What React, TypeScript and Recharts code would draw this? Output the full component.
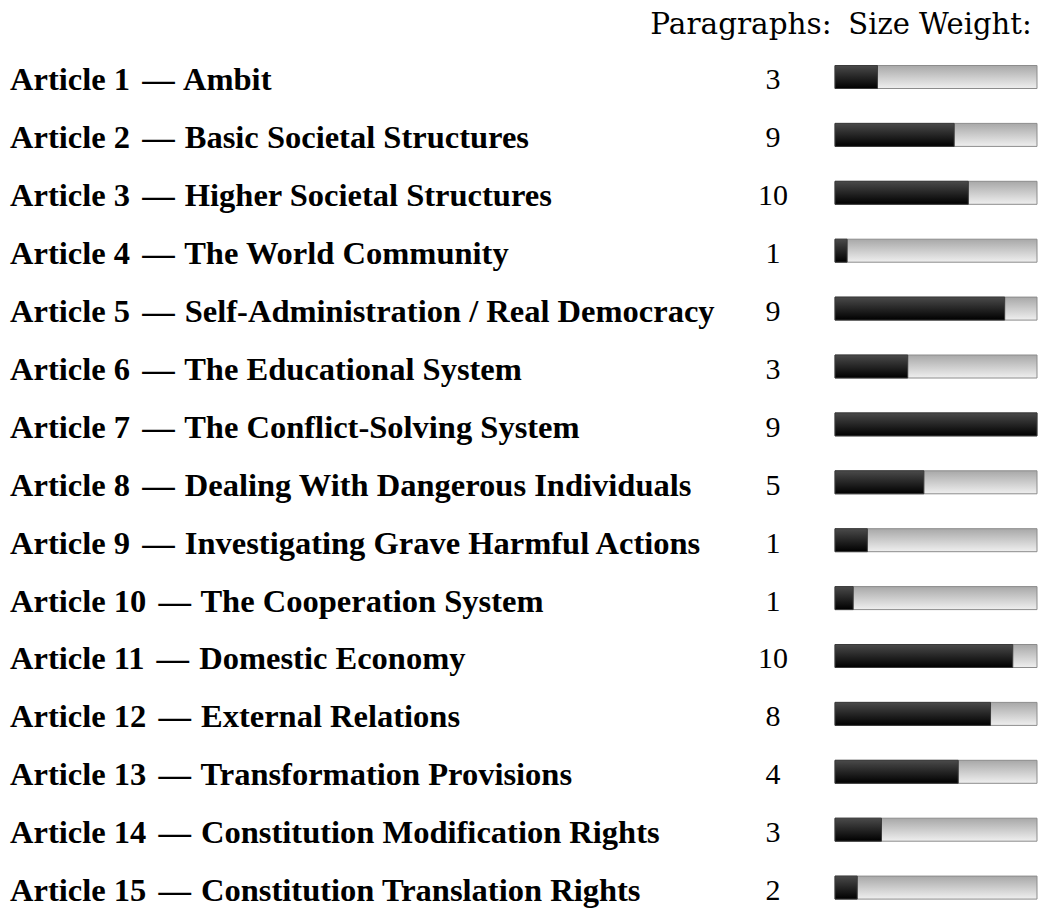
import React from 'react';
import { BarChart, Bar, XAxis, YAxis } from 'recharts';

const labels = [
  'Article 1 — Ambit',
  'Article 2 — Basic Societal Structures',
  'Article 3 — Higher Societal Structures',
  'Article 4 — The World Community',
  'Article 5 — Self-Administration / Real Democracy',
  'Article 6 — The Educational System',
  'Article 7 — The Conflict-Solving System',
  'Article 8 — Dealing With Dangerous Individuals',
  'Article 9 — Investigating Grave Harmful Actions',
  'Article 10 — The Cooperation System',
  'Article 11 — Domestic Economy',
  'Article 12 — External Relations',
  'Article 13 — Transformation Provisions',
  'Article 14 — Constitution Modification Rights',
  'Article 15 — Constitution Translation Rights',
];

const paragraphs = [3, 9, 10, 1, 9, 3, 9, 5, 1, 1, 10, 8, 4, 3, 2];

// size weight, percent of the largest article
const weights = [21, 59, 66, 6, 84, 36, 100, 44, 16, 9, 88, 77, 61, 23, 11];

const data = labels.map((label, i) => ({ label, paragraphs: paragraphs[i], weight: weights[i] }));

const ArticleTick = (props: any) => {
  const { y, payload } = props;
  const i = labels.indexOf(payload.value);
  const [head, tail] = String(payload.value).split(' — ');
  return (
    <g>
      <text x={10} y={y + 13} fill="#000" fontFamily="'Liberation Serif', serif" fontWeight="bold" fontSize={32.5}>
        <tspan>{head}</tspan>
        <tspan dx={4}> —</tspan>
        <tspan dx={2}> {tail}</tspan>
      </text>
      <text x={773} y={y + 12} fill="#000" fontFamily="'Liberation Serif', serif" fontSize={30} textAnchor="middle">
        {paragraphs[i]}
      </text>
    </g>
  );
};

const App: React.FC = () => {
  return (
    <div style={{ position: 'absolute', left: 0, top: 0, width: 1038, height: 908, overflow: 'hidden', background: '#fff' }}>
      {/* column headers */}
      <svg width={1038} height={50} style={{ position: 'absolute', left: 0, top: 0 }}>
        <text x={741} y={34} textAnchor="middle" fontFamily="'DejaVu Serif', serif" fontSize={29.5} fill="#000">
          Paragraphs:
        </text>
        <text x={940} y={34} textAnchor="middle" fontFamily="'DejaVu Serif', serif" fontSize={29} fill="#000">
          Size Weight:
        </text>
      </svg>
      <div style={{ position: 'absolute', left: 0, top: 0 }}>
        <BarChart
          width={1038}
          height={917}
          data={data}
          layout="vertical"
          margin={{ top: 48.5, right: 1, bottom: 0, left: 0 }}
        >
          <defs>
            <linearGradient id="weightTrack" x1="0" y1="0" x2="0" y2="1">
              <stop offset="0%" stopColor="#a8a8a8" />
              <stop offset="100%" stopColor="#efefef" />
            </linearGradient>
            <linearGradient id="weightFill" x1="0" y1="0" x2="0" y2="1">
              <stop offset="0%" stopColor="#4a4a4a" />
              <stop offset="100%" stopColor="#000" />
            </linearGradient>
          </defs>
          <XAxis type="number" domain={[0, 100]} hide />
          <YAxis
            type="category"
            dataKey="label"
            width={835}
            axisLine={false}
            tickLine={false}
            interval={0}
            tick={(p: any) => <ArticleTick {...p} />}
          />
          <Bar
            dataKey="weight"
            barSize={23}
            fill="url(#weightFill)"
            stroke="#3a3a3a"
            strokeWidth={1}
            background={{ fill: 'url(#weightTrack)', stroke: '#8c8c8c', strokeWidth: 1 }}
            isAnimationActive={false}
          />
        </BarChart>
      </div>
    </div>
  );
};

export default App;
